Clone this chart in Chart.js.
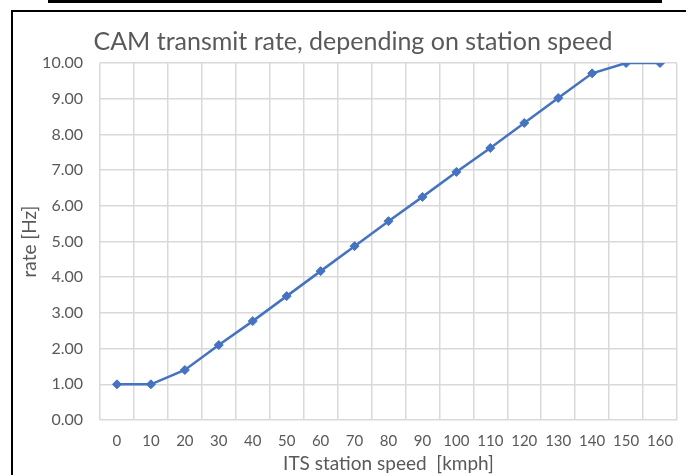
<!DOCTYPE html>
<html>
<head>
<meta charset="utf-8">
<script src="https://cdn.jsdelivr.net/npm/chart.js@4.4.0/dist/chart.umd.min.js"></script>
<style>
  html, body { margin: 0; padding: 0; background: #fff; }
  body { width: 686px; height: 475px; position: relative; overflow: hidden; }
  #topbar { position: absolute; left: 48px; top: 0; width: 614px; height: 3px; background: #000; }
  #frame { position: absolute; left: 11px; top: 10px; width: 675px; height: 465px;
           border-left: 2px solid #000; border-top: 2px solid #000; box-sizing: border-box; }
  #wrap { position: absolute; left: 0; top: 0; width: 673px; height: 463px; }
</style>
</head>
<body>
<div id="topbar"></div>
<div id="frame"><div id="wrap"><canvas id="rateChart"></canvas></div></div>
<script>
// speed categories (km/h) and CAM rate (Hz)
var speeds = ['0', '10', '20', '30', '40', '50', '60', '70', '80', '90', '100', '110', '120', '130', '140', '150', '160'];
var rates = [1.00, 1.00, 1.40, 2.10, 2.77, 3.47, 4.17, 4.87, 5.57, 6.25, 6.95, 7.62, 8.32, 9.02, 9.71, 10.00, 10.00];

var textColor = '#595959';
var gridColor = '#d9d9d9';
var fontFamily = 'Lato, "Open Sans", sans-serif';

document.addEventListener('DOMContentLoaded', function () {
    var ctx = document.getElementById('rateChart').getContext('2d');

    new Chart(ctx, {
        type: 'line',
        data: {
            labels: speeds,
            datasets: [{
                label: 'rate',
                data: rates,
                borderColor: '#4472c4',
                backgroundColor: '#4472c4',
                borderWidth: 2.5,
                pointStyle: 'rectRot',
                pointRadius: 4.5,
                pointBorderWidth: 1,
                tension: 0
            }]
        },
        options: {
            responsive: true,
            maintainAspectRatio: false,
            animation: false,
            // left padding pushes the title centre to the right like the original
            layout: { padding: { left: 16, right: 9, top: 0, bottom: 0 } },
            plugins: {
                legend: { display: false },
                tooltip: { enabled: false },
                title: {
                    display: true,
                    text: 'CAM transmit rate, depending on station speed',
                    color: textColor,
                    font: { family: fontFamily, size: 25, weight: 'normal' },
                    padding: { top: 15, bottom: 6 }
                }
            },
            scales: {
                x: {
                    offset: true,
                    grid: { offset: true, color: gridColor, lineWidth: 1.5, drawTicks: false },
                    border: { display: false },
                    ticks: { color: textColor, font: { family: fontFamily, size: 15 }, padding: 12, maxRotation: 0, autoSkip: false },
                    title: {
                        display: true,
                        text: 'ITS station speed  [kmph]',
                        color: textColor,
                        font: { family: fontFamily, size: 19 },
                        padding: { top: 0, bottom: 0 }
                    },
                    afterFit: function (axis) { axis.height = 55; }
                },
                y: {
                    min: 0,
                    max: 10,
                    grid: { color: gridColor, lineWidth: 1.5, drawTicks: false },
                    border: { display: false },
                    ticks: {
                        stepSize: 1,
                        color: textColor,
                        font: { family: fontFamily, size: 16 },
                        padding: 17,
                        callback: function (v) { return Number(v).toFixed(2); }
                    },
                    title: {
                        display: true,
                        text: 'rate [Hz]',
                        color: textColor,
                        font: { family: fontFamily, size: 19 },
                        padding: { top: -11, bottom: 0 }
                    },
                    afterFit: function (axis) { axis.width = 71; }
                }
            }
        }
    });
});
</script>
</body>
</html>
